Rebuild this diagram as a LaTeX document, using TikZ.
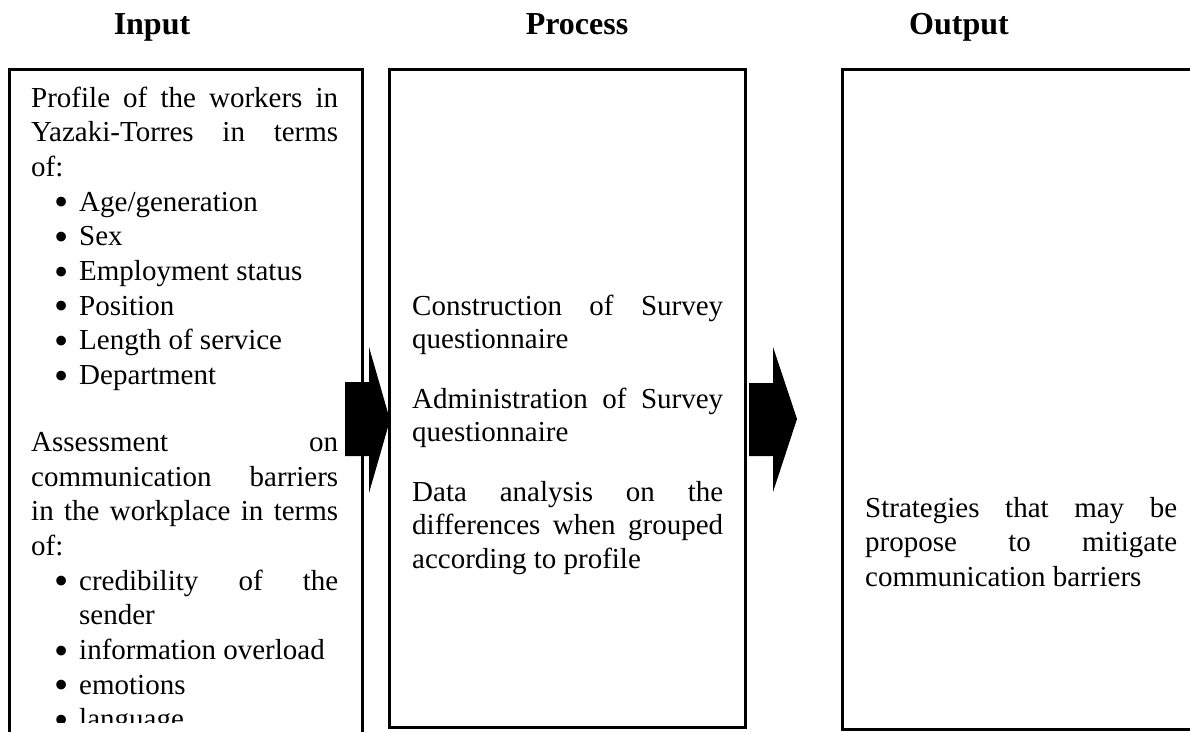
\documentclass[tikz,border=0pt]{standalone}
\usepackage{fontspec}
\usepackage{graphicx}
\setmainfont{Liberation Serif}
\newcommand\bigbullet{\raisebox{-4.5pt}{\scalebox{1.4}{\textbullet}}}
\newcommand\bitem[1]{\hspace*{23pt}\makebox[25pt][l]{\bigbullet}#1}
\begin{document}
\begin{tikzpicture}[x=1pt,y=-1pt,
  box/.style={line width=3pt, line join=miter},
  blockarrow/.style={fill=black, draw=none},
  title/.style={font=\fontsize{32}{36}\selectfont\bfseries, inner sep=0pt, anchor=base},
  txt/.style={inner sep=0pt, anchor=base west}]
\useasboundingbox (0,0) rectangle (1190,731);
\fill[white] (0,0) rectangle (1190,731);
% titles
\node[title] (tin) at (152,34) {Input};
\node[title] (tpr) at (577,34) {Process};
\node[title] (tout) at (959,34) {Output};
% boxes
\begin{scope}
\clip (0,0) rectangle (1190,731);
\draw[box] (9,745) -- (9,69) -- (362,69) -- (362,745);
\draw[box] (389,69) rectangle (745,727);
\draw[box] (1210,729) -- (842,729) -- (842,69) -- (1210,69);
\end{scope}
% block arrows
\fill[blockarrow] (345,382) -- (369,382) -- (369,347) -- (390,420) -- (369,493) -- (369,456) -- (345,456) -- cycle;
\fill[blockarrow] (749,383) -- (773,383) -- (773,347) -- (797,419) -- (773,492) -- (773,456) -- (749,456) -- cycle;
% input text
\begin{scope}
\clip (0,60) rectangle (1190,722);
\node[txt] (intext) at (31,107) {\begin{minipage}[t]{307pt}\fontsize{29}{34.7}\selectfont
\makebox[307pt][s]{Profile of the workers in}\\
\makebox[307pt][s]{Yazaki-Torres in terms}\\
of:\\
\bitem{Age/generation}\\
\bitem{Sex}\\
\bitem{Employment status}\\
\bitem{Position}\\
\bitem{Length of service}\\
\bitem{Department}\\[32pt]
\makebox[307pt][s]{Assessment on}\\
\makebox[307pt][s]{communication barriers}\\
\makebox[307pt][s]{in the workplace in terms}\\
of:\\
\bitem{\makebox[259pt][s]{credibility of the}}\\
\hspace*{48pt}sender\\
\bitem{information overload}\\
\bitem{emotions}\\
\bitem{language}
\end{minipage}};
\end{scope}
% process text
\node[txt] (prtext) at (412,315) {\begin{minipage}[t]{311pt}\fontsize{29}{33.5}\selectfont
\makebox[311pt][s]{Construction of Survey}\\
questionnaire\\[26pt]
\makebox[311pt][s]{Administration of Survey}\\
questionnaire\\[26pt]
\makebox[311pt][s]{Data analysis on the}\\
\makebox[311pt][s]{differences when grouped}\\
according to profile
\end{minipage}};
% output text
\node[txt] (outtext) at (865,517) {\begin{minipage}[t]{312pt}\fontsize{29}{34.5}\selectfont
\makebox[312pt][s]{Strategies that may be}\\
\makebox[312pt][s]{propose to mitigate}\\
communication barriers
\end{minipage}};
\end{tikzpicture}
\end{document}
